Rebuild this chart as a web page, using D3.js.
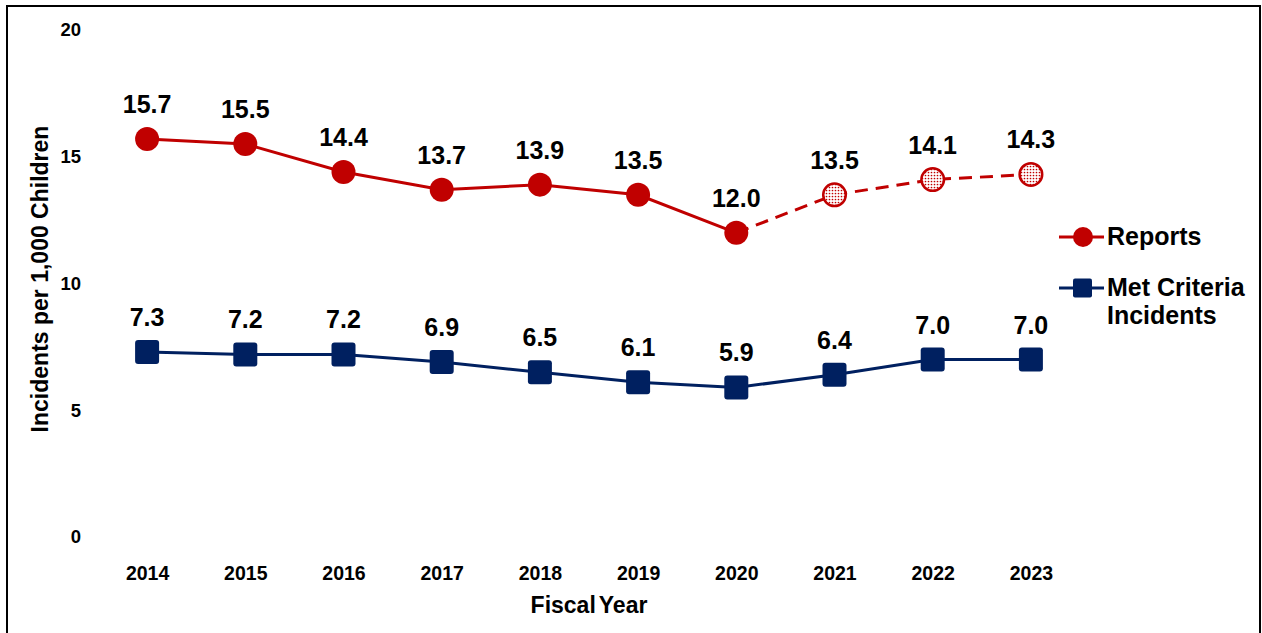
<!DOCTYPE html>
<html>
<head>
<meta charset="utf-8">
<script src="https://cdn.jsdelivr.net/npm/d3@7"></script>
<style>
  html, body { margin: 0; padding: 0; background: #fff; }
  svg { display: block; font-family: "Liberation Sans", Arial, sans-serif; }
</style>
</head>
<body>
<svg id="chart" width="1262" height="633"></svg>
<script>
// Fiscal years shown on the x axis
const years = ["2014", "2015", "2016", "2017", "2018", "2019", "2020", "2021", "2022", "2023"];
// Incidents per 1,000 children
const reports = [15.7, 15.5, 14.4, 13.7, 13.9, 13.5, 12.0, 13.5, 14.1, 14.3];
const metCriteria = [7.3, 7.2, 7.2, 6.9, 6.5, 6.1, 5.9, 6.4, 7.0, 7.0];
// Years whose report counts are preliminary (dashed line, dotted markers)
const preliminaryYears = ["2021", "2022", "2023"];
const yTicks = [0, 5, 10, 15, 20];

const RED = "#C00000";
const NAVY = "#002060";

const svg = d3.select("#chart");

// outer frame
svg.append("rect")
  .attr("x", 7).attr("y", 6).attr("width", 1253).attr("height", 640)
  .attr("fill", "none").attr("stroke", "#000").attr("stroke-width", 2);

// dotted fill for preliminary markers
const defs = svg.append("defs");
const pat = defs.append("pattern")
  .attr("id", "dots").attr("patternUnits", "userSpaceOnUse")
  .attr("width", 3).attr("height", 3);
pat.append("rect").attr("width", 3).attr("height", 3).attr("fill", "#fff");
pat.append("circle").attr("cx", 1.5).attr("cy", 1.5).attr("r", 0.85).attr("fill", RED);

const x = d3.scalePoint().domain(years).range([98, 1080]).padding(0.5);
const y = d3.scaleLinear().domain([0, 20]).range([537, 30]);

// y axis (labels only)
const yAxis = svg.append("g")
  .attr("transform", "translate(81,0)")
  .call(d3.axisLeft(y).tickValues(yTicks).tickSize(0).tickPadding(0));
yAxis.select(".domain").remove();
yAxis.selectAll("text")
  .attr("font-size", 18.5).attr("font-weight", "bold").attr("fill", "#000")
  .attr("font-family", "Liberation Sans, Arial, sans-serif");

// x axis (labels only)
const xAxis = svg.append("g")
  .attr("transform", "translate(0,580)")
  .call(d3.axisBottom(x).tickSize(0).tickPadding(0));
xAxis.select(".domain").remove();
xAxis.selectAll("text")
  .attr("dy", 0)
  .attr("font-size", 19.5).attr("font-weight", "bold").attr("fill", "#000")
  .attr("font-family", "Liberation Sans, Arial, sans-serif");

// axis titles
svg.append("text")
  .attr("x", 589).attr("y", 613)
  .attr("text-anchor", "middle")
  .attr("font-size", 23).attr("font-weight", "bold")
  .attr("word-spacing", -3)
  .text("Fiscal Year");

svg.append("text")
  .attr("transform", "translate(48,279) rotate(-90)")
  .attr("text-anchor", "middle")
  .attr("font-size", 23).attr("font-weight", "bold")
  .text("Incidents per 1,000 Children");

const reportData = years.map((yr, i) => ({ year: yr, value: reports[i], prelim: preliminaryYears.includes(yr) }));
const metData = years.map((yr, i) => ({ year: yr, value: metCriteria[i] }));

const line = d3.line().x(d => x(d.year)).y(d => y(d.value));

// Reports: solid through 2020, dashed afterwards
const lastFinal = reportData.findIndex(d => d.prelim) - 1;
svg.append("path")
  .datum(reportData.slice(0, lastFinal + 1))
  .attr("d", line).attr("fill", "none").attr("stroke", RED).attr("stroke-width", 3);
svg.append("path")
  .datum(reportData.slice(lastFinal))
  .attr("d", line).attr("fill", "none").attr("stroke", RED).attr("stroke-width", 3)
  .attr("stroke-dasharray", "13,8");

// Met criteria line
svg.append("path")
  .datum(metData)
  .attr("d", line).attr("fill", "none").attr("stroke", NAVY).attr("stroke-width", 3);

// Report markers
svg.selectAll(".rep")
  .data(reportData).enter().append("circle")
  .attr("cx", d => x(d.year)).attr("cy", d => y(d.value))
  .attr("r", d => d.prelim ? 11.3 : 12)
  .attr("fill", d => d.prelim ? "url(#dots)" : RED)
  .attr("stroke", RED).attr("stroke-width", d => d.prelim ? 2.5 : 0);

// Met criteria markers
const sq = 24;
svg.selectAll(".met")
  .data(metData).enter().append("rect")
  .attr("x", d => x(d.year) - sq / 2).attr("y", d => y(d.value) - sq / 2)
  .attr("width", sq).attr("height", sq).attr("rx", 3)
  .attr("fill", NAVY);

// value labels
const labelStyle = sel => sel
  .attr("text-anchor", "middle").attr("font-size", 25).attr("font-weight", "bold").attr("fill", "#000");

svg.selectAll(".repLabel")
  .data(reportData).enter().append("text")
  .attr("x", d => x(d.year)).attr("y", d => y(d.value) - 26)
  .call(labelStyle)
  .text(d => d.value.toFixed(1));

svg.selectAll(".metLabel")
  .data(metData).enter().append("text")
  .attr("x", d => x(d.year)).attr("y", d => y(d.value) - 26)
  .call(labelStyle)
  .text(d => d.value.toFixed(1));

// legend
const lg = svg.append("g");
lg.append("line").attr("x1", 1059).attr("x2", 1104).attr("y1", 237).attr("y2", 237)
  .attr("stroke", RED).attr("stroke-width", 3);
lg.append("circle").attr("cx", 1083).attr("cy", 237).attr("r", 10).attr("fill", RED);
lg.append("text").attr("x", 1107).attr("y", 245)
  .attr("font-size", 25).attr("font-weight", "bold").text("Reports");

lg.append("line").attr("x1", 1059).attr("x2", 1104).attr("y1", 288).attr("y2", 288)
  .attr("stroke", NAVY).attr("stroke-width", 3);
lg.append("rect").attr("x", 1073).attr("y", 278.5).attr("width", 19).attr("height", 19).attr("rx", 2)
  .attr("fill", NAVY);
const t2 = lg.append("text").attr("x", 1107).attr("y", 296)
  .attr("font-size", 25).attr("font-weight", "bold");
t2.append("tspan").attr("x", 1107).text("Met Criteria");
t2.append("tspan").attr("x", 1107).attr("dy", 28).text("Incidents");
</script>
</body>
</html>
